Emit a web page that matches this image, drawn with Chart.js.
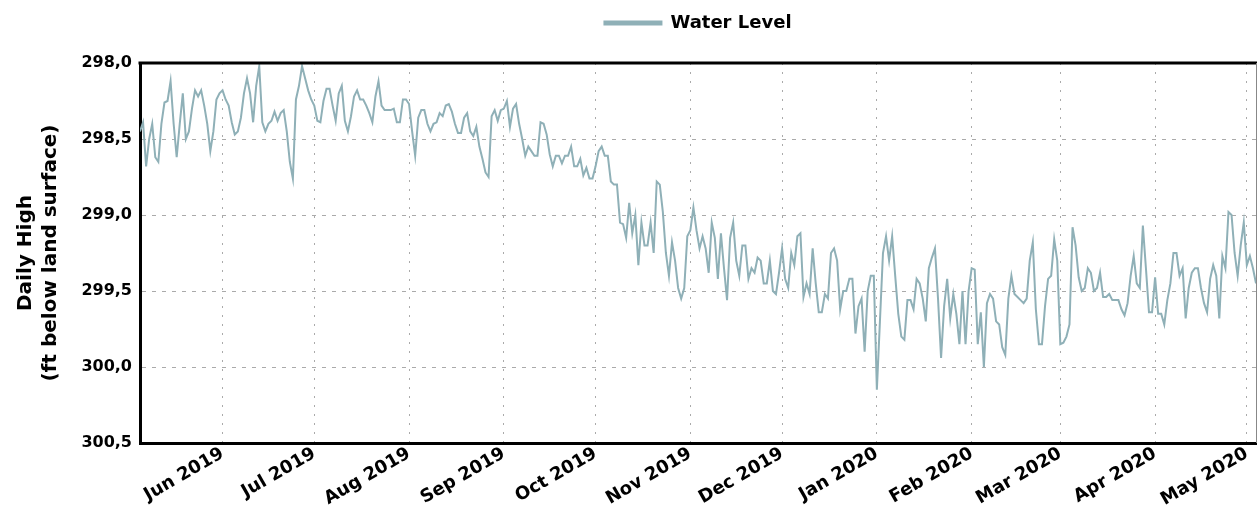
<!DOCTYPE html>
<html>
<head>
<meta charset="utf-8">
<script src="https://cdn.jsdelivr.net/npm/chart.js@4/dist/chart.umd.min.js"></script>
<style>
  html, body { margin: 0; padding: 0; background: #fff; }
  #wrap { width: 1258px; height: 523px; }
</style>
</head>
<body>
<div id="wrap"><canvas id="chart-water" width="1258" height="523"></canvas></div>
<script>
// daily high, one reading per day from 2019-05-05 (day 0) to 2020-05-04 (day 365)
const startDate = '2019-05-05';

const levelsMay19 = [298.45, 298.39, 298.68, 298.50, 298.40, 298.62, 298.65, 298.40, 298.26, 298.25,
   298.12, 298.40, 298.62, 298.40, 298.20, 298.50, 298.45, 298.30, 298.18, 298.22,
   298.18, 298.28, 298.40, 298.58, 298.45, 298.24, 298.20];
const levelsJun19 = [298.18, 298.24, 298.28,
   298.39, 298.47, 298.45, 298.36, 298.20, 298.10, 298.20, 298.39, 298.15, 298.02,
   298.39, 298.45, 298.40, 298.38, 298.32, 298.38, 298.33, 298.31, 298.45, 298.65,
   298.76, 298.24, 298.15, 298.02, 298.10, 298.18, 298.24];
const levelsJul19 = [298.28, 298.38, 298.39,
   298.25, 298.17, 298.17, 298.28, 298.38, 298.20, 298.15, 298.38, 298.45, 298.35,
   298.22, 298.18, 298.24, 298.24, 298.28, 298.33, 298.39, 298.22, 298.12, 298.28,
   298.31, 298.31, 298.31, 298.30, 298.39, 298.39, 298.24, 298.24];
const levelsAug19 = [298.27, 298.45,
   298.61, 298.36, 298.31, 298.31, 298.40, 298.45, 298.40, 298.39, 298.33, 298.35,
   298.28, 298.27, 298.32, 298.40, 298.46, 298.46, 298.36, 298.33, 298.45, 298.48,
   298.42, 298.55, 298.63, 298.72, 298.75, 298.35, 298.31, 298.38, 298.31];
const levelsSep19 = [298.30,
   298.25, 298.42, 298.30, 298.27, 298.40, 298.50, 298.61, 298.55, 298.58, 298.61,
   298.61, 298.39, 298.40, 298.47, 298.60, 298.68, 298.61, 298.61, 298.66, 298.61,
   298.61, 298.55, 298.68, 298.68, 298.63, 298.74, 298.69, 298.76, 298.76];
const levelsOct19 = [298.68,
   298.58, 298.55, 298.61, 298.61, 298.78, 298.80, 298.80, 299.05, 299.06, 299.15,
   298.92, 299.12, 299.00, 299.33, 299.05, 299.20, 299.20, 299.05, 299.25, 298.78,
   298.80, 298.98, 299.25, 299.40, 299.18, 299.30, 299.48, 299.55, 299.48, 299.14];
const levelsNov19 = [299.10, 298.95, 299.10, 299.22, 299.14,
   299.22, 299.38, 299.05, 299.15, 299.42, 299.12, 299.35, 299.56, 299.15, 299.05,
   299.30, 299.40, 299.20, 299.20, 299.42, 299.35, 299.38, 299.28, 299.30, 299.45,
   299.45, 299.30, 299.50, 299.52, 299.38];
const levelsDec19 = [299.22, 299.42, 299.48, 299.25, 299.33, 299.14, 299.12, 299.54, 299.45, 299.52,
   299.22, 299.45, 299.64, 299.64, 299.52, 299.55, 299.25, 299.22, 299.30, 299.62,
   299.50, 299.50, 299.42, 299.42, 299.78, 299.60, 299.55, 299.90, 299.50, 299.40,
   299.40];
const levelsJan20 = [300.15, 299.70, 299.25, 299.14, 299.30, 299.14, 299.40, 299.65, 299.80,
   299.82, 299.56, 299.56, 299.62, 299.42, 299.45, 299.55, 299.70, 299.35, 299.28,
   299.22, 299.55, 299.94, 299.60, 299.42, 299.68, 299.52, 299.65, 299.85, 299.50,
   299.85, 299.50];
const levelsFeb20 = [299.35, 299.36, 299.85, 299.64, 300.00, 299.58, 299.52, 299.55,
   299.70, 299.72, 299.87, 299.92, 299.55, 299.40, 299.52, 299.54, 299.56, 299.58,
   299.55, 299.30, 299.18, 299.62, 299.85, 299.85, 299.60, 299.42, 299.40, 299.16,
   299.30];
const levelsMar20 = [299.85, 299.84, 299.80, 299.72, 299.08, 299.20, 299.41, 299.50, 299.48,
   299.35, 299.38, 299.50, 299.48, 299.38, 299.54, 299.54, 299.52, 299.56, 299.56,
   299.56, 299.62, 299.66, 299.58, 299.40, 299.27, 299.45, 299.48, 299.07, 299.35,
   299.64, 299.64];
const levelsApr20 = [299.41, 299.65, 299.65, 299.72, 299.56, 299.45, 299.25, 299.25,
   299.40, 299.35, 299.68, 299.48, 299.38, 299.35, 299.35, 299.48, 299.58, 299.64,
   299.42, 299.33, 299.40, 299.68, 299.27, 299.35, 298.98, 299.00, 299.25, 299.40,
   299.20, 299.05];
const levelsMay20 = [299.33, 299.27, 299.35, 299.45];

const levels = [].concat(levelsMay19, levelsJun19, levelsJul19, levelsAug19, levelsSep19,
   levelsOct19, levelsNov19, levelsDec19, levelsJan20, levelsFeb20, levelsMar20,
   levelsApr20, levelsMay20);

// month ticks: day number of each 1st of month, counted from startDate
const monthStarts = [27, 57, 88, 119, 149, 180, 210, 241, 272, 301, 332, 362];
const monthLabels = ['Jun 2019', 'Jul 2019', 'Aug 2019', 'Sep 2019', 'Oct 2019', 'Nov 2019',
   'Dec 2019', 'Jan 2020', 'Feb 2020', 'Mar 2020', 'Apr 2020', 'May 2020'];

const levelTicks = [298.0, 298.5, 299.0, 299.5, 300.0, 300.5];

const lineColor = '#8fb0b7';
const fontFamily = "'DejaVu Sans', sans-serif";

let waterCanvas = document.getElementById('chart-water');

// top frame line (thick) and thin right edge
const frame = {
   id: 'frame',
   afterDraw(chart) {
      const a = chart.chartArea;
      const ctx = chart.ctx;
      ctx.save();
      ctx.strokeStyle = '#000';
      ctx.lineWidth = 3;
      ctx.beginPath();
      ctx.moveTo(a.left - 1.5, a.top);
      ctx.lineTo(a.right + 1, a.top);
      ctx.stroke();
      ctx.strokeStyle = '#888';
      ctx.lineWidth = 1;
      ctx.beginPath();
      ctx.moveTo(a.right + 0.5, a.top);
      ctx.lineTo(a.right + 0.5, a.bottom);
      ctx.stroke();
      ctx.restore();
   }
};

// extra room under the legend, and centre it over the plot area
const legendSpace = {
   id: 'legendSpace',
   beforeInit(chart) {
      const fit = chart.legend.fit;
      chart.legend.fit = function () {
         fit.call(this);
         this.height += 21;
      };
   },
   afterLayout(chart) {
      chart.legend.left = chart.chartArea.left;
      chart.legend.right = chart.chartArea.right;
   }
};

let waterData = {
   datasets: [{
      label: 'Water Level',
      data: levels.map((v, i) => ({ x: i, y: v })),
      borderColor: lineColor,
      backgroundColor: lineColor,
      borderWidth: 2,
      pointRadius: 0,
      tension: 0
   }]
};

let waterOptions = {
   responsive: false,
   animation: false,
   layout: {
      padding: { top: 4, right: 2, left: 0, bottom: 0 }
   },
   scales: {
      x: {
         type: 'linear',
         min: 0,
         max: levels.length - 1,
         afterBuildTicks: (axis) => {
            axis.ticks = monthStarts.map(v => ({ value: v }));
         },
         afterFit: (axis) => { axis.height = 80; },
         ticks: {
            autoSkip: false,
            minRotation: 30,
            maxRotation: 30,
            padding: 0,
            color: '#000',
            font: { family: fontFamily, size: 18, weight: 'bold' },
            callback: (v) => monthLabels[monthStarts.indexOf(v)]
         },
         grid: {
            color: '#aaa',
            drawTicks: false,
            tickLength: 0
         },
         border: { color: '#000', width: 3, dash: [2, 7] }
      },
      y: {
         reverse: true,
         min: 298,
         max: 300.5,
         afterBuildTicks: (axis) => {
            axis.ticks = levelTicks.map(v => ({ value: v }));
         },
         afterFit: (axis) => { axis.width = 140; },
         ticks: {
            color: '#000',
            padding: 8,
            font: { family: fontFamily, size: 16, weight: 'bold' },
            callback: (v) => v.toFixed(1).replace('.', ',')
         },
         title: {
            display: true,
            text: ['Daily High', '(ft below land surface)'],
            color: '#000',
            font: { family: fontFamily, size: 20, weight: 'bold', lineHeight: 1.25 },
            padding: { top: 13, bottom: 0 }
         },
         grid: {
            color: '#aaa',
            drawTicks: false
         },
         border: { color: '#000', width: 3, dash: [4, 6] }
      }
   },
   plugins: {
      legend: {
         position: 'top',
         labels: {
            boxWidth: 57,
            boxHeight: 3,
            padding: 10,
            color: '#000',
            font: { family: fontFamily, size: 18, weight: 'bold' }
         }
      },
      tooltip: { enabled: false }
   }
};

let waterChart = new Chart(waterCanvas, {
   type: 'line',
   data: waterData,
   options: waterOptions,
   plugins: [frame, legendSpace]
});
</script>
</body>
</html>
